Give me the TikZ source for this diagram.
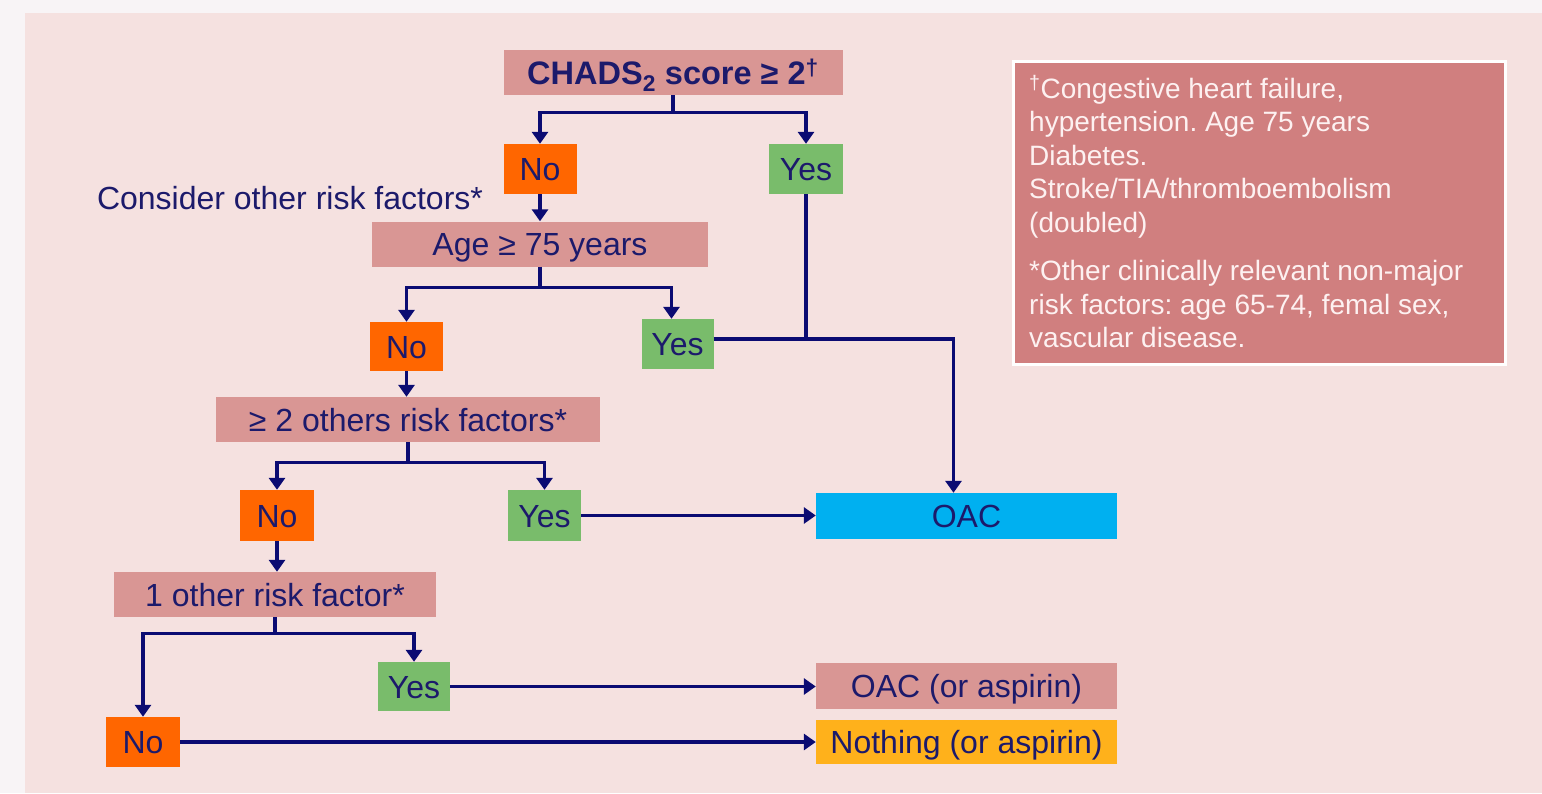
\documentclass[tikz,border=0pt]{standalone}
\usepackage{fontspec}
\setmainfont{Liberation Sans}
\usetikzlibrary{calc,arrows.meta}
\definecolor{bgout}{HTML}{F8F4F6}
\definecolor{bgpink}{HTML}{F5E1E0}
\definecolor{qcol}{HTML}{D99694}
\definecolor{nocol}{HTML}{FF6600}
\definecolor{yescol}{HTML}{79BC6B}
\definecolor{oaccol}{HTML}{00B0F0}
\definecolor{nothcol}{HTML}{FFB11B}
\definecolor{legcol}{HTML}{D07F7F}
\definecolor{legtext}{HTML}{FDF1F1}
\definecolor{navytext}{HTML}{1C1A6B}
\definecolor{linecol}{HTML}{0B0B72}
\frenchspacing

\begin{document}
\begin{tikzpicture}[x=1pt,y=-1pt,
  every node/.style={inner sep=0pt,text=navytext,font=\fontsize{32}{38}\selectfont},
  cbox/.style={text height=23.5,text depth=0},
  qbox/.style={cbox,fill=qcol,minimum height=45},
  nobox/.style={cbox,fill=nocol,minimum width=73,minimum height=50},
  yesbox/.style={cbox,fill=yescol,minimum width=72,minimum height=50},
  endbox/.style={cbox,minimum width=301,minimum height=46},
  link/.style={draw=linecol,line width=3.3pt},
  arr/.style={link,-{Triangle[width=16pt,length=12pt]}}]
  \useasboundingbox (0,0) rectangle (1542,793);
  \fill[bgout] (0,0) rectangle (1542,793);
  \fill[bgpink] (25,13) rectangle (1542,793);

  \node[qbox,minimum width=339,font=\fontsize{32.5}{38}\selectfont\bfseries] (chads) at (673,72.5) {CHADS\textsubscript{2} score ≥ 2\textsuperscript{†}};
  \node[nobox] (no1) at (540,169) {No};
  \node[yesbox,minimum width=74] (yes1) at (806,169) {Yes};
  \node (consider) at (290,198) {Consider other risk factors*};
  \node[qbox,minimum width=336] (age) at (540,244) {Age ≥ 75 years};
  \node[nobox,minimum height=49] (no2) at (406.5,346.5) {No};
  \node[yesbox] (yes2) at (677.5,344) {Yes};
  \node[qbox,minimum width=384] (others) at (408,419.5) {≥ 2 others risk factors*};
  \node[nobox,minimum width=74,minimum height=51] (no3) at (277,515.5) {No};
  \node[yesbox,minimum width=73,minimum height=51] (yes3) at (544.5,515.5) {Yes};
  \node[endbox,fill=oaccol] (oac) at (966.5,516) {OAC};
  \node[qbox,minimum width=322] (one) at (275,594.5) {1 other risk factor*};
  \node[yesbox,minimum height=49] (yes4) at (414,686.5) {Yes};
  \node[nobox,minimum width=74] (no4) at (143,742) {No};
  \node[endbox,fill=qcol] (oacasp) at (966.5,686) {OAC (or aspirin)};
  \node[endbox,fill=nothcol,minimum height=44] (nothing) at (966.5,742) {Nothing (or aspirin)};

  \node[fill=legcol,draw=white,line width=3pt,minimum width=492,minimum height=303] (legend) at (1259.5,213) {};
  \node[anchor=north west,align=left,text=legtext,font=\fontsize{28}{33.5}\selectfont] (legtxt) at ($(legend.north west)+(17,15)$) {\textsuperscript{†}Congestive heart failure,\\hypertension. Age 75 years\\Diabetes.\\Stroke/TIA/thromboembolism\\(doubled)\\[15pt]*Other clinically relevant non-major\\risk factors: age 65-74, femal sex,\\vascular disease.};

  \draw[link] (chads.south) -- ++(0,17) coordinate (j1);
  \draw[arr] (j1) -| (no1.north);
  \draw[arr] (j1) -| (yes1.north);
  \draw[arr] (no1.south) -- (no1.south |- age.north);
  \draw[link] (age.south) -- ++(0,21) coordinate (j2);
  \draw[arr] (j2) -| (no2.north);
  \draw[arr] (j2) -| ($(yes2.north)+(-6,0)$);
  \coordinate (y2out) at ($(yes2.east)+(0,-5)$);
  \draw[link] (yes1.south) -- (yes1.south |- y2out);
  \draw[arr] (y2out) -| ($(oac.north)+(-13,0)$);
  \draw[arr] (no2.south) -- (no2.south |- others.north);
  \draw[link] (others.south) -- ++(0,20) coordinate (j3);
  \draw[arr] (j3) -| (no3.north);
  \draw[arr] (j3) -| (yes3.north);
  \draw[arr] (yes3.east) -- (yes3.east -| oac.west);
  \draw[arr] (no3.south) -- (no3.south |- one.north);
  \draw[link] (one.south) -- ++(0,16) coordinate (j4);
  \draw[arr] (j4) -| (no4.north);
  \draw[arr] (j4) -| (yes4.north);
  \draw[arr] (yes4.east) -- (yes4.east -| oacasp.west);
  \draw[arr] (no4.east) -- (no4.east -| nothing.west);
\end{tikzpicture}
\end{document}
